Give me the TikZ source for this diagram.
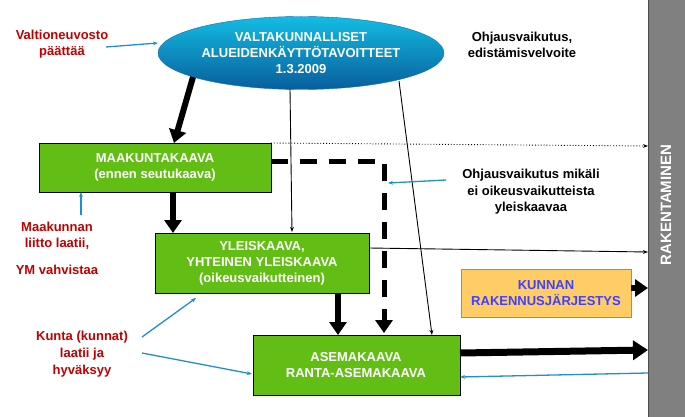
\documentclass[tikz,border=0pt]{standalone}
\usepackage{fontspec}
\setmainfont{Liberation Sans}
\usetikzlibrary{arrows.meta,shapes.geometric}
\definecolor{gr}{HTML}{62BE14}
\definecolor{redt}{HTML}{C00000}
\definecolor{bl}{HTML}{1F8FD0}
\definecolor{peach}{HTML}{FFCC66}
\definecolor{ebl}{HTML}{0A6FB8}
\begin{document}
\begin{tikzpicture}[x=1pt,y=-1pt,
  txt/.style={font=\bfseries\fontsize{13}{16}\selectfont,align=center,inner sep=0},
  gbox/.style={draw=black,fill=gr,text=white,txt,anchor=north west},
  red/.style={txt,text=redt},
  thick arr/.style={line width=6pt,-{Triangle[length=13pt,width=17pt]}},
  thin arr/.style={line width=0.9pt,-{Stealth[length=5pt]}},
  blue arr/.style={draw=bl,line width=1.3pt,-{Stealth[length=5pt]}}]
\useasboundingbox (0,0) rectangle (685,417);
\fill[white] (0,0) rectangle (685,417);
% bar
\node[draw=black!70,fill=black!50,minimum width=37pt,minimum height=420pt,anchor=north west,inner sep=0] (bar) at (648,-2) {};
\node[txt,text=white,rotate=90,font=\bfseries\fontsize{15}{17}\selectfont] (rak) at (666,205) {RAKENTAMINEN};
% ellipse
\node[ellipse,draw=ebl,top color=bl!60!cyan,bottom color=ebl!85!black,minimum width=286pt,minimum height=73pt,inner sep=0] (vat) at (301,53) {};
\node[txt,text=white] (vatt) at (301,53) {VALTAKUNNALLISET\\ALUEIDENKÄYTTÖTAVOITTEET\\1.3.2009};
% boxes
\node[gbox,minimum width=232pt,minimum height=49pt] (mk) at (39,143) {};
\node[txt,text=white] (mkt) at (155,167) {MAAKUNTAKAAVA\\(ennen seutukaava)};
\node[gbox,minimum width=214pt,minimum height=60pt] (yk) at (155,233) {};
\node[txt,text=white] (ykt) at (262,263) {YLEISKAAVA,\\YHTEINEN YLEISKAAVA\\(oikeusvaikutteinen)};
\node[gbox,minimum width=207pt,minimum height=60pt] (ak) at (253,335) {};
\node[txt,text=white] (akt) at (356,365) {ASEMAKAAVA\\RANTA-ASEMAKAAVA};
\node[draw=orange!90!red,fill=peach,minimum width=170pt,minimum height=48pt,anchor=north west,inner sep=0] (kr) at (461,269) {};
\node[txt,text=blue!75!white] (krt) at (546,293) {KUNNAN\\RAKENNUSJÄRJESTYS};
% texts
\node[red] (vn) at (62,44) {Valtioneuvosto\\päättää};
\node[txt] (oh1) at (522,45) {Ohjausvaikutus,\\edistämisvelvoite};
\node[txt,font=\bfseries\fontsize{13}{16.5}\selectfont] (oh2) at (531,192) {Ohjausvaikutus mikäli\\ei oikeusvaikutteista\\yleiskaavaa};
\node[red] (ml) at (57,236) {Maakunnan\\liitto laatii,};
\node[red] (ym) at (57,270) {YM vahvistaa};
\node[red,font=\bfseries\fontsize{13}{17}\selectfont] (ku) at (82,354) {Kunta (kunnat)\\laatii ja\\hyväksyy};
% coordinates
\coordinate (c1) at (384,161);
% arrows
\draw[thick arr] (193,77) -- (174,143);
\draw[thick arr] (173,192) -- (173,233);
\draw[thick arr] (338,293) -- (338,335);
\draw[line width=5pt,dash pattern=on 17pt off 12pt] (mk.east |- c1) -- (c1) -- (384,316);
\draw[line width=5pt,-{Triangle[length=13pt,width=17pt]}] (384,316) -- (384,333);
\draw[thin arr] (290,89) -- (292,232);
\draw[thin arr] (399,81) -- (432,335);
\draw[thin arr,dotted] (271,143) -- (648,146);
\draw[thin arr] (369,248) -- (648,252);
\draw[thick arr] (631,288) -- (648,288);
\draw[line width=7pt,-{Triangle[length=15pt,width=19pt]}] (460,353) -- (648,350);
\draw[blue arr] (648,373) -- (460,377);
\draw[blue arr] (106,47) -- (158,43);
\draw[blue arr] (446,180) -- (388,183);
\draw[blue arr] (81,215) -- (81,192);
\draw[blue arr] (142,337) -- (196,298);
\draw[blue arr] (142,353) -- (252,374);
\end{tikzpicture}
\end{document}
